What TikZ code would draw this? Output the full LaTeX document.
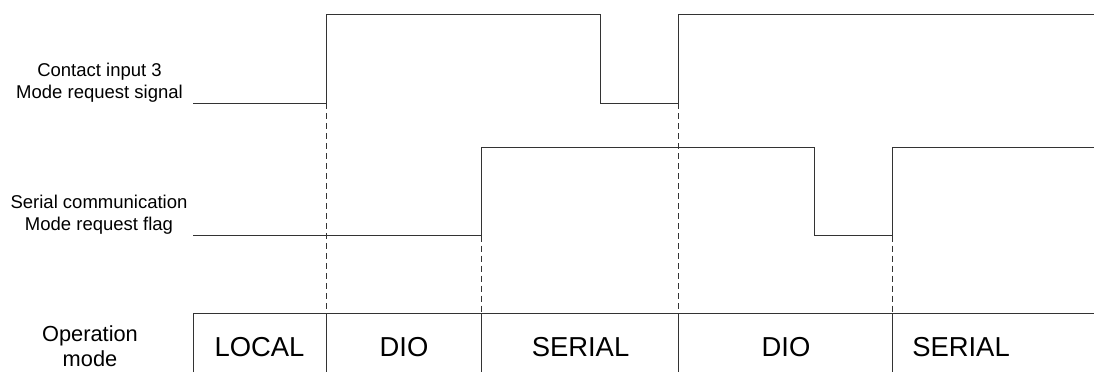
\documentclass[tikz,border=0pt]{standalone}
\usepackage{fontspec}
\setsansfont{Liberation Sans}
\usetikzlibrary{calc,positioning}

\begin{document}
\begin{tikzpicture}[x=1pt, y=-1pt, font=\sffamily]
		\tikzset{sig/.style={line width=1pt, draw=black!80}}
		\tikzset{guide/.style={sig, dash pattern=on 6pt off 4pt}}
		\tikzset{lbl/.style={align=center, anchor=base, inner sep=0pt, font=\sffamily\fontsize{18.5}{21.8}\selectfont}}
		\tikzset{modetxt/.style={anchor=base, inner sep=0pt, font=\sffamily\fontsize{27.4}{30}\selectfont}}
		\useasboundingbox (0,0) rectangle (1094,372);

		% Levels
		\coordinate (hiA) at (0,14.7);
		\coordinate (loA) at (0,103);
		\coordinate (hiB) at (0,147);
		\coordinate (loB) at (0,235.5);
		\coordinate (top) at (0,313);
		\coordinate (bot) at (0,372);

		% Edges
		\coordinate (start) at (193,0);
		\coordinate (t1) at (326,0);
		\coordinate (t2) at (481,0);
		\coordinate (t3) at (600,0);
		\coordinate (t4) at (678,0);
		\coordinate (t5) at (814,0);
		\coordinate (t6) at (892,0);
		\coordinate (stop) at (1094,0);

		% Contact input 3
		\node[lbl] (sigA label) at (99.5,98.3) {Contact input 3\\Mode request signal};
		\draw[sig] (start |- loA) -- (t1 |- loA) -- (t1 |- hiA) -- (t3 |- hiA) -- (t3 |- loA)
			-- (t4 |- loA) -- (t4 |- hiA) -- (stop |- hiA);

		% Serial communication flag
		\node[lbl] (sigB label) at (99,230.5) {Serial communication\\Mode request flag};
		\draw[sig] (start |- loB) -- (t2 |- loB) -- (t2 |- hiB) -- (t5 |- hiB) -- (t5 |- loB)
			-- (t6 |- loB) -- (t6 |- hiB) -- (stop |- hiB);

		% Operation mode
		\node[lbl, font=\sffamily\fontsize{21.8}{25}\selectfont] (mode label) at (90,366) {Operation\\mode};
		\draw[sig] (start |- bot) -- (start |- top) -- (stop |- top);
		\foreach \t in {t1,t2,t4,t6}
			\draw[sig] (\t |- top) -- (\t |- bot);
		\node[modetxt] (local) at (259.5,356) {LOCAL};
		\node[modetxt] (dio1) at (404,356) {DIO};
		\node[modetxt] (serial1) at (580.5,356) {SERIAL};
		\node[modetxt] (dio2) at (786,356) {DIO};
		\node[modetxt] (serial2) at (961,356) {SERIAL};

		% Guide lines
		\draw[guide] (t1 |- loA) -- (t1 |- top);
		\draw[guide] (t2 |- loB) -- (t2 |- top);
		\draw[guide] (t4 |- loA) -- (t4 |- top);
		\draw[guide] (t6 |- loB) -- (t6 |- top);
	\end{tikzpicture}
\end{document}
